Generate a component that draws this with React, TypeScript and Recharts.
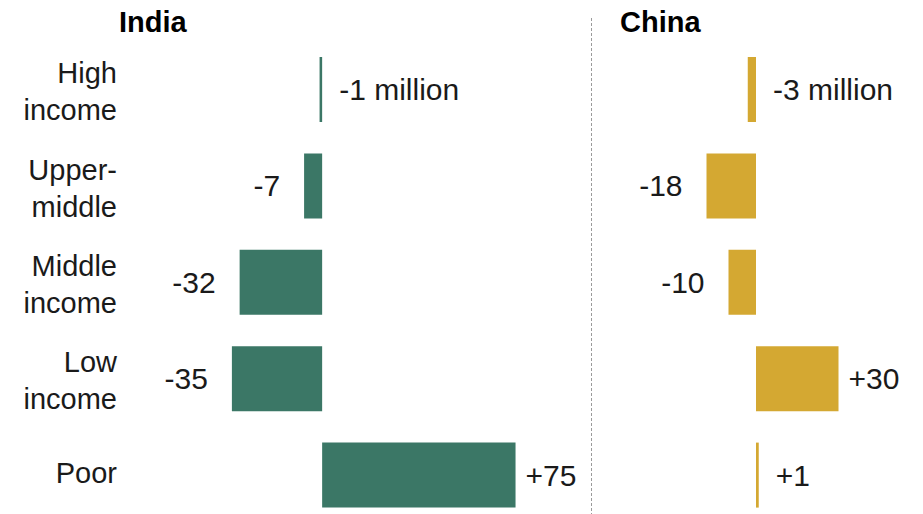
import React from "react";
import { Bar, BarChart, LabelList, XAxis, YAxis } from "recharts";

const categories = ["High\nincome", "Upper-\nmiddle", "Middle\nincome", "Low\nincome", "Poor"];
const indiaValues = [-1, -7, -32, -35, 75];
const chinaValues = [-3, -18, -10, 30, 1];
const indiaLabels = ["-1 million", "-7", "-32", "-35", "+75"];
const chinaLabels = ["-3 million", "-18", "-10", "+30", "+1"];

const INDIA = "#3b7766";
const CHINA = "#d4a832";
const TEXT = "#1a1a1a";
const FONT = "'Liberation Sans', Arial, sans-serif";

const data = categories.map((name, i) => ({
  name,
  india: indiaValues[i],
  china: chinaValues[i],
}));

const CategoryTick = (props: any) => {
  const { x, y, payload } = props;
  const lines = String(payload.value).split("\n");
  const first = lines.length > 1 ? y - 6 : y + 8;
  return (
    <text x={x} y={first} textAnchor="end" fontSize={29} fill={TEXT} fontFamily={FONT}>
      {lines.map((l, i) => (
        <tspan key={i} x={x} dy={i === 0 ? 0 : 37}>
          {l}
        </tspan>
      ))}
    </text>
  );
};

const makeLabel = (labels: string[]) => (props: any) => {
  const { x, y, width, height, index, value } = props;
  const left = Math.min(x, x + width);
  const right = Math.max(x, x + width);
  const w = right - left;
  const cy = y + height / 2 + 10.5;
  let tx = right + 10;
  let anchor = "start";
  if (w < 10) {
    tx = right + 17;
  } else if (value < 0) {
    tx = left - 24;
    anchor = "end";
  }
  return (
    <text x={tx} y={cy} textAnchor={anchor} fontSize={30} fill={TEXT} fontFamily={FONT}>
      {labels[index]}
    </text>
  );
};

export default function App() {
  return (
    <div
      style={{
        position: "absolute",
        left: 0,
        top: 0,
        width: 923,
        height: 514,
        overflow: "hidden",
        background: "#fff",
        fontFamily: FONT,
      }}
    >
      <div style={{ position: "absolute", left: 0, top: 0 }}>
        <BarChart
          layout="vertical"
          width={590}
          height={523}
          data={data}
          margin={{ top: 41, right: 10, bottom: 0, left: 0 }}
        >
          <XAxis type="number" domain={[-40, 100]} hide />
          <YAxis
            type="category"
            dataKey="name"
            width={219}
            axisLine={false}
            tickLine={false}
            tickSize={0}
            tickMargin={102}
            tick={<CategoryTick />}
            interval={0}
          />
          <Bar dataKey="india" fill={INDIA} barSize={65} isAnimationActive={false}>
            <LabelList dataKey="india" content={makeLabel(indiaLabels)} />
          </Bar>
        </BarChart>
      </div>
      <div style={{ position: "absolute", left: 600, top: 0 }}>
        <BarChart
          layout="vertical"
          width={323}
          height={523}
          data={data}
          margin={{ top: 41, right: 29.5, bottom: 0, left: 101 }}
        >
          <XAxis type="number" domain={[-20, 50]} hide />
          <YAxis type="category" dataKey="name" hide />
          <Bar dataKey="china" fill={CHINA} barSize={65} isAnimationActive={false}>
            <LabelList dataKey="china" content={makeLabel(chinaLabels)} />
          </Bar>
        </BarChart>
      </div>
      <svg
        width={923}
        height={514}
        style={{ position: "absolute", left: 0, top: 0, pointerEvents: "none" }}
      >
        <text x={119} y={32} fontSize={29} fontWeight="bold" fill="#000" fontFamily={FONT}>
          India
        </text>
        <text x={620} y={32} fontSize={29} fontWeight="bold" fill="#000" fontFamily={FONT}>
          China
        </text>
        <line x1={591.5} x2={591.5} y1={18} y2={514} stroke="#9a9a9a" strokeWidth={1} strokeDasharray="3 2" />
      </svg>
    </div>
  );
}
